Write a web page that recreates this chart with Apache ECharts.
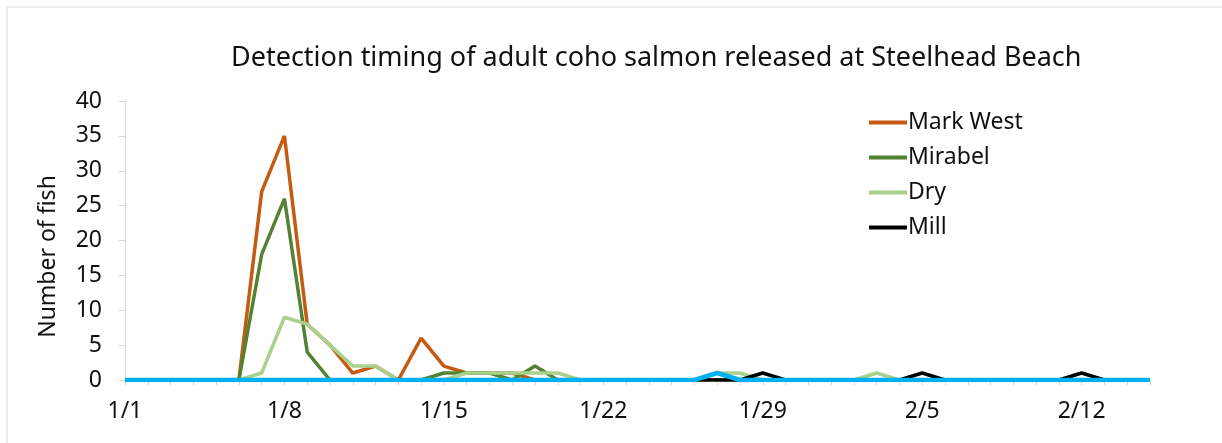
<!DOCTYPE html>
<html>
<head>
<meta charset="utf-8">
<script src="https://cdn.jsdelivr.net/npm/echarts@6/dist/echarts.min.js"></script>
<style>
  html, body { margin: 0; padding: 0; background: #fff; }
  #chart { width: 1222px; height: 443px; }
</style>
</head>
<body>
<div id="chart"></div>
<script>
var days = [
    '1/1', '1/2', '1/3', '1/4', '1/5', '1/6', '1/7', '1/8', '1/9', '1/10',
    '1/11', '1/12', '1/13', '1/14', '1/15', '1/16', '1/17', '1/18', '1/19', '1/20',
    '1/21', '1/22', '1/23', '1/24', '1/25', '1/26', '1/27', '1/28', '1/29', '1/30',
    '1/31', '2/1', '2/2', '2/3', '2/4', '2/5', '2/6', '2/7', '2/8', '2/9',
    '2/10', '2/11', '2/12', '2/13', '2/14', '2/15'
];
// fish detected per day
var markWest = [0, 0, 0, 0, 0, 0, 27, 35, 8, 5, 1, 2, 0, 6, 2, 1, 1, 1, 0, 0,
    0, 0, 0, 0, 0, 0, 0, 0, 0, 0, 0, 0, 0, 0, 0, 0, 0, 0, 0, 0, 0, 0, 0, 0, 0, 0];
var mirabel = [0, 0, 0, 0, 0, 0, 18, 26, 4, 0, 0, 0, 0, 0, 1, 1, 1, 0, 2, 0,
    0, 0, 0, 0, 0, 0, 0, 0, 0, 0, 0, 0, 0, 0, 0, 0, 0, 0, 0, 0, 0, 0, 0, 0, 0, 0];
var dry = [0, 0, 0, 0, 0, 0, 1, 9, 8, 5, 2, 2, 0, 0, 0, 1, 1, 1, 1, 1,
    0, 0, 0, 0, 0, 0, 1, 1, 0, 0, 0, 0, 0, 1, 0, 0, 0, 0, 0, 0, 0, 0, 0, 0, 0, 0];
var mill = [0, 0, 0, 0, 0, 0, 0, 0, 0, 0, 0, 0, 0, 0, 0, 0, 0, 0, 0, 0,
    0, 0, 0, 0, 0, 0, 0, 0, 1, 0, 0, 0, 0, 0, 0, 1, 0, 0, 0, 0, 0, 0, 1, 0, 0, 0];
var other = [0, 0, 0, 0, 0, 0, 0, 0, 0, 0, 0, 0, 0, 0, 0, 0, 0, 0, 0, 0,
    0, 0, 0, 0, 0, 0, 1, 0, 0, 0, 0, 0, 0, 0, 0, 0, 0, 0, 0, 0, 0, 0, 0, 0, 0, 0];

var font = 'Noto Sans';

function line(name, data, color, width) {
    return {
        name: name,
        type: 'line',
        data: data,
        symbol: 'none',
        lineStyle: { color: color, width: width },
        itemStyle: { color: color },
        animation: false
    };
}

var chart = echarts.init(document.getElementById('chart'));
chart.setOption({
    textStyle: { fontFamily: font },
    graphic: [{
        type: 'rect',
        shape: { x: 7, y: 7, width: 1240, height: 460 },
        style: { fill: 'none', stroke: '#d9d9d9', lineWidth: 1 },
        silent: true
    }],
    title: {
        text: 'Detection timing of adult coho salmon released at Steelhead Beach',
        left: 226,
        top: 40,
        textStyle: { fontFamily: font, fontSize: 27, fontWeight: 'normal', color: '#111' }
    },
    legend: {
        data: ['Mark West', 'Mirabel', 'Dry', 'Mill'],
        orient: 'vertical',
        left: 864,
        top: 106,
        icon: 'rect',
        itemWidth: 38,
        itemHeight: 4,
        itemGap: 12,
        textStyle: { fontFamily: font, fontSize: 23, color: '#111', padding: [0, 0, 0, -4] }
    },
    grid: { left: 125, right: 72, top: 101, bottom: 63 },
    xAxis: {
        type: 'category',
        data: days,
        boundaryGap: false,
        axisLine: { lineStyle: { color: '#d9d9d9' } },
        axisTick: { interval: 0, length: 5, lineStyle: { color: '#d9d9d9' } },
        axisLabel: { interval: 6, margin: 20, fontSize: 23, color: '#111', fontFamily: font }
    },
    yAxis: {
        type: 'value',
        min: 0,
        max: 40,
        interval: 5,
        name: 'Number of fish',
        nameLocation: 'middle',
        nameGap: 65,
        nameTextStyle: { fontSize: 23, color: '#111', fontFamily: font, padding: [0, 32, 0, 0] },
        axisLine: { show: true, lineStyle: { color: '#d9d9d9' } },
        axisTick: { show: true, length: 6, lineStyle: { color: '#d9d9d9' } },
        splitLine: { show: false },
        axisLabel: { margin: 23, fontSize: 23, color: '#111', fontFamily: font }
    },
    series: [
        line('Mark West', markWest, '#C55A11', 3.5),
        line('Mirabel', mirabel, '#548235', 3.5),
        line('Dry', dry, '#A9D18E', 3.5),
        line('Mill', mill, '#000000', 3.5),
        line('Other', other, '#00B0F0', 4.5)
    ]
});
</script>
</body>
</html>
